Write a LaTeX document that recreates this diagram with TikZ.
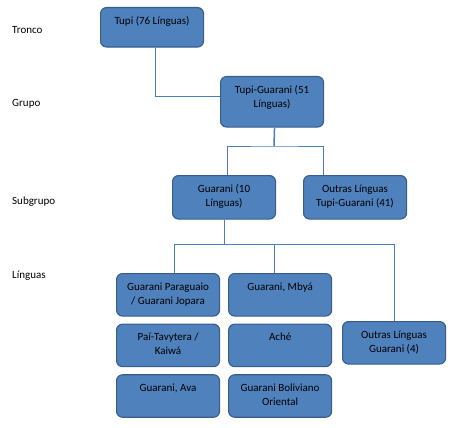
\documentclass[tikz,border=0pt]{standalone}
\usepackage{fontspec}
\setmainfont{Carlito}
\usetikzlibrary{positioning}
\definecolor{boxfill}{RGB}{79,129,189}
\definecolor{boxline}{RGB}{56,93,138}
\definecolor{linkline}{RGB}{74,126,187}
\tikzset{
  caixa/.style={draw=boxline, fill=boxfill, line width=1.1pt, rounded corners=6pt, anchor=north west,
    minimum width=103pt, inner xsep=0pt, inner ysep=0pt, text height=16.5pt, text depth=#1},
  caixa/.default=26pt,
  nivel/.style={anchor=west, inner sep=0pt},
  ligacao/.style={draw=linkline, line width=0.8pt}
}
\newcommand{\duas}[2]{\begin{tabular}[t]{@{}c@{}}#1\\#2\end{tabular}}

\begin{document}
\begin{tikzpicture}[x=1pt, y=-1pt, font=\fontsize{11}{14}\selectfont]
    \useasboundingbox (0,0) rectangle (466,428);

    \node[nivel] (tronco) at (12,30) {Tronco};
    \node[nivel] (grupo) at (12,104) {Grupo};
    \node[nivel] (subgrupo) at (12,202) {Subgrupo};
    \node[nivel] (linguas) at (12,276) {Línguas};

    \node[caixa=23pt] (tupi) at (100,7) {Tupi (76 Línguas)};
    \node[caixa=34pt] (tupiguarani) at (220,76) {\duas{Tupi-Guarani (51}{Línguas)}};
    \node[caixa=27pt] (guarani) at (172,175) {\duas{Guarani (10}{Línguas)}};
    \node[caixa=27pt] (outrastg) at (303,175) {\duas{Outras Línguas}{Tupi-Guarani (41)}};

    \node[caixa] (paraguaio) at (116,273) {\duas{Guarani Paraguaio}{/ Guarani Jopara}};
    \node[caixa, right=8pt of paraguaio] (mbya) {Guarani, Mbyá};
    \node[caixa, below=7pt of paraguaio] (pai) {\duas{Paí-Tavytera /}{Kaiwá}};
    \node[caixa, below=7pt of mbya] (ache) {Aché};
    \node[caixa, below=7pt of pai] (ava) {Guarani, Ava};
    \node[caixa, below=7pt of ache] (boliviano) {\duas{Guarani Boliviano}{Oriental}};
    \node[caixa] (outrasg) at (342,321) {\duas{Outras Línguas}{Guarani (4)}};

    \coordinate (ramo1) at (274,146);
    \coordinate (ramo2) at (223,244);

    \draw[ligacao] ([xshift=3.5pt]tupi.south) |- ([yshift=5pt]tupiguarani.west);
    \draw[ligacao, line width=1.5pt] ([xshift=2.5pt]tupiguarani.south) -- (ramo1);
    \draw[ligacao] ([xshift=3.5pt]guarani.north) |- (ramo1) -| ([xshift=-31.5pt]outrastg.north);

    \draw[ligacao] (guarani.south) -- (guarani.south |- ramo2);
    \draw[ligacao] ([xshift=6.5pt]paraguaio.north) |- (outrasg.north |- ramo2) -- (outrasg.north);
    \draw[ligacao] ([xshift=-6pt]mbya.north) -- ([xshift=-6pt]mbya.north |- ramo2);
\end{tikzpicture}
\end{document}
